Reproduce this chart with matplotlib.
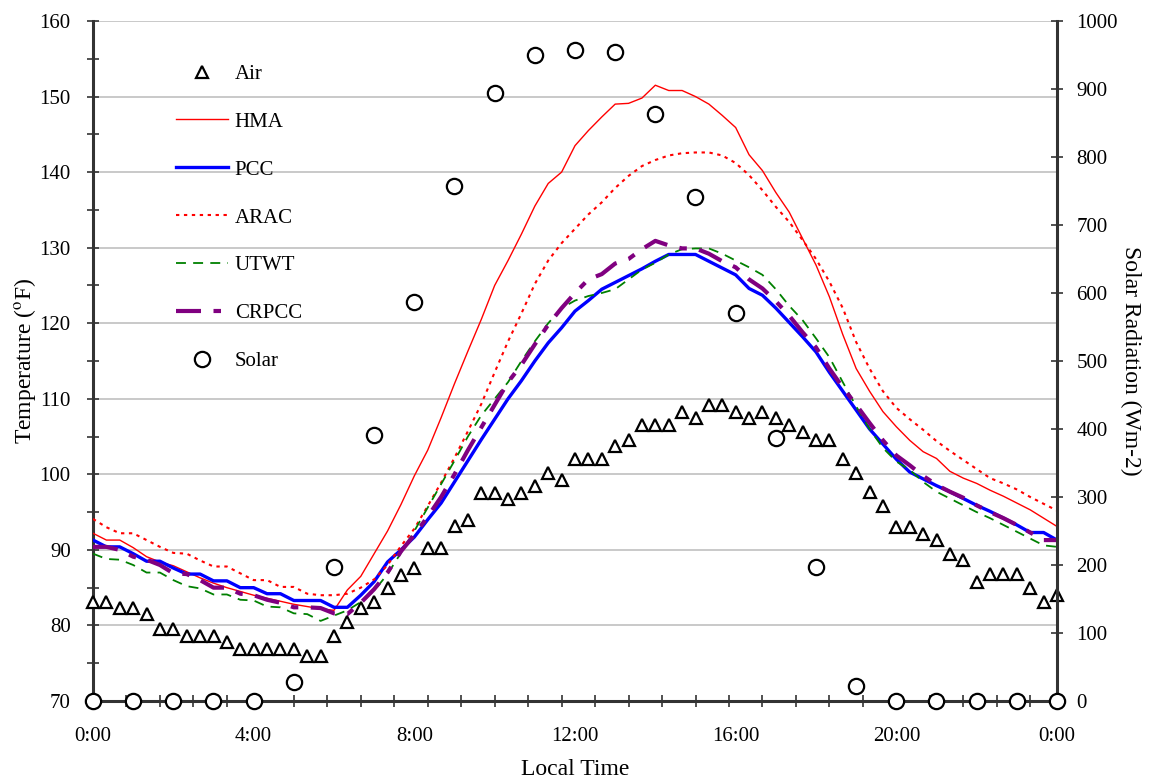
import numpy as np
import matplotlib.pyplot as plt
from matplotlib.lines import Line2D

plt.rcParams['font.family'] = ['Liberation Serif', 'DejaVu Serif']
plt.rcParams['mathtext.fontset'] = 'stix'

# 20-minute readings, 0:00 -> 24:00
hours = np.linspace(0, 24, 73)

air = [83.1, 83.1, 82.3, 82.3, 81.5, 79.5, 79.5, 78.6, 78.6, 78.6, 77.8, 76.9,
       76.9, 76.9, 76.9, 76.9, 76.0, 76.0,
       78.6, 80.5, 82.3, 83.1, 84.9, 86.7, 87.6, 90.3, 90.3,
       93.1, 94.0, 97.5, 97.5, 96.7, 97.5, 98.5, 100.2, 99.3,
       102.0, 102.0, 102.0, 103.7, 104.6, 106.5, 106.5, 106.5, 108.3,
       107.4, 109.2, 109.2, 108.3, 107.4, 108.3, 107.4, 106.5, 105.6,
       104.6, 104.6, 102.0, 100.2, 97.6, 95.8, 93.0, 93.0, 92.1,
       91.3, 89.5, 88.6, 85.8, 86.8, 86.8, 86.8, 85.0, 83.1,
       84.0]

hma = [92.2, 91.3, 91.3, 90.3, 89.1, 88.4, 87.9, 87.1, 86.3, 85.6, 85.0, 84.5,
       84.0, 83.6, 83.2, 82.8, 82.5, 82.2,
       82.0, 84.7, 86.5, 89.5, 92.5, 96.0, 99.8, 103.2, 107.5,
       112.0, 116.3, 120.5, 125.0, 128.3, 131.8, 135.5, 138.5, 140.0,
       143.5, 145.5, 147.3, 149.0, 149.1, 149.8, 151.5, 150.8, 150.8,
       150.0, 149.0, 147.5, 145.9, 142.3, 140.2, 137.3, 134.7, 131.2,
       127.7, 123.5, 118.5, 114.0, 111.0, 108.3, 106.3, 104.5, 103.0,
       102.1, 100.4, 99.5, 98.8, 97.9, 97.1, 96.2, 95.3, 94.2,
       93.1]

pcc = [91.3, 90.4, 90.4, 89.5, 88.5, 88.5, 87.6, 86.8, 86.8, 85.9, 85.9, 85.0,
       85.0, 84.2, 84.2, 83.3, 83.3, 83.3,
       82.4, 82.4, 84.0, 85.8, 88.4, 90.0, 91.7, 94.0, 96.2,
       99.0, 101.8, 104.6, 107.3, 110.0, 112.4, 115.0, 117.4, 119.4,
       121.6, 123.0, 124.5, 125.4, 126.3, 127.2, 128.2, 129.1, 129.1,
       129.1, 128.2, 127.3, 126.4, 124.6, 123.7, 122.0, 120.1, 118.2,
       116.2, 113.5, 111.0, 108.5, 106.0, 104.0, 102.0, 100.3, 99.4,
       98.5, 97.7, 96.8, 95.9, 95.1, 94.2, 93.3, 92.3, 92.3,
       91.3]

arac = [94.1, 93.0, 92.2, 92.2, 91.3, 90.4, 89.6, 89.5, 88.6, 87.8, 87.8, 86.9,
        86.0, 86.0, 85.1, 85.1, 84.2, 84.0,
        84.0, 84.2, 85.0, 86.1, 88.0, 90.5, 92.8, 95.8, 98.9,
        102.2, 105.7, 109.3, 113.5, 117.6, 121.3, 125.2, 128.3, 130.6,
        132.5, 134.4, 136.0, 137.9, 139.5, 140.8, 141.6, 142.2, 142.5,
        142.6, 142.6, 142.2, 141.2, 139.6, 137.6, 135.4, 133.4, 131.0,
        128.5, 125.5, 122.0, 117.5, 114.0, 111.0, 108.8, 107.3, 105.9,
        104.4, 103.1, 101.9, 100.7, 99.5, 98.8, 98.0, 97.0, 96.1,
        95.2]

utwt = [89.5, 88.8, 88.7, 88.0, 87.0, 87.0, 86.0, 85.2, 84.9, 84.1, 84.1, 83.4,
        83.3, 82.5, 82.4, 81.6, 81.5, 80.6,
        81.3, 82.0, 83.1, 84.6, 86.8, 89.6, 92.5, 95.6, 98.7,
        101.8, 105.0, 107.8, 110.0, 112.2, 115.0, 117.6, 120.0, 122.0,
        123.0, 123.6, 124.0, 124.5, 125.8, 127.1, 128.0, 129.1, 129.8,
        129.9, 129.9, 129.2, 128.3, 127.4, 126.4, 124.5, 122.3, 120.4,
        118.0, 115.5, 112.2, 109.0, 106.0, 103.5, 101.7, 100.6, 99.0,
        97.7, 96.8, 95.9, 95.0, 94.2, 93.3, 92.4, 91.5, 90.6,
        90.4]

crpcc = [90.4, 90.4, 90.0, 89.1, 88.7, 88.0, 86.9, 86.8, 86.0, 85.0, 85.0, 84.2,
         84.0, 83.4, 83.0, 82.4, 82.4, 82.3,
         81.6, 81.5, 83.0, 84.8, 87.0, 89.8, 92.0, 94.4, 97.0,
         100.0, 103.2, 106.2, 109.2, 112.2, 114.5, 117.2, 119.8, 122.0,
         124.0, 125.8, 126.5, 127.9, 128.5, 129.8, 130.9, 130.3, 129.9,
         129.9, 129.2, 128.2, 127.4, 125.8, 124.6, 122.9, 121.0, 118.8,
         116.8, 114.0, 111.5, 109.2, 106.8, 104.5, 102.5, 101.2, 99.8,
         98.6, 97.7, 96.9, 95.9, 95.0, 94.2, 93.3, 92.3, 91.3,
         91.3]

# hourly solar radiation
solar_hours = np.arange(25)
solar = [0, 0, 0, 0, 0, 28, 197, 391, 587, 757, 894, 950, 957, 954, 863,
         741, 571, 387, 197, 22, 0, 0, 0, 0, 0]

xtick_pos = [0, 4, 8, 12, 16, 20, 24]
xtick_labels = ['0:00', '4:00', '8:00', '12:00', '16:00', '20:00', '0:00']

fig = plt.figure(figsize=(11.49, 7.79), dpi=100)
ax = fig.add_axes([93 / 1149, 78 / 779, 964 / 1149, 680 / 779])

axis_col = '#333333'

ax.plot(hours, hma, color='red', lw=1.0, zorder=3)
ax.plot(hours, pcc, color='blue', lw=2.4, zorder=3)
ax.plot(hours, arac, color='red', lw=1.5, dashes=(1.6, 2.2), zorder=3)
ax.plot(hours, utwt, color='green', lw=1.3, dashes=(5.5, 4), zorder=3)
ax.plot(hours, crpcc, color='purple', lw=3.0, dashes=(6, 3, 1.8, 3), zorder=3)
ax.plot(hours, air, ls='none', marker='^', ms=9, mfc='white', mec='black',
        mew=1.6, clip_on=False, zorder=4)

ax.set_xlim(0, 24)
ax.set_ylim(70, 160)
ax.set_yticks(np.arange(70, 161, 10))
ax.set_yticks(np.arange(75, 160, 10), minor=True)
ax.set_xticks(xtick_pos)
ax.set_xticklabels(xtick_labels)
ax.set_xticks(np.arange(0, 24.01, 5 / 6), minor=True)
ax.grid(axis='y', color='#c0c0c0', lw=1.2)
ax.set_axisbelow(True)

ax.tick_params(axis='y', which='both', direction='inout', length=8, width=1.2,
               color=axis_col, labelsize=15, pad=12)
ax.tick_params(axis='x', which='major', length=0, labelsize=15, pad=19)
ax.tick_params(axis='x', which='minor', direction='inout', length=8, width=1.2,
               color=axis_col)

for side in ['top', 'right']:
    ax.spines[side].set_visible(False)
for side in ['left', 'bottom']:
    ax.spines[side].set_color(axis_col)
    ax.spines[side].set_linewidth(2.2)

ax.set_xlabel('Local Time', fontsize=17, labelpad=9)
ax.set_ylabel(r'Temperature ($^{\mathrm{o}}$F)', fontsize=17, labelpad=1)

ax2 = ax.twinx()
ax2.plot(solar_hours, solar, ls='none', marker='o', ms=11, mfc='white',
         mec='black', mew=1.6, clip_on=False, zorder=5)
ax2.set_ylim(0, 1000)
ax2.set_yticks(np.arange(0, 1001, 100))
ax2.tick_params(axis='y', direction='inout', length=8, width=1.2,
                color=axis_col, labelsize=15, pad=10)
for side in ['top', 'left', 'bottom']:
    ax2.spines[side].set_visible(False)
ax2.spines['right'].set_color(axis_col)
ax2.spines['right'].set_linewidth(2.2)
ax2.set_ylabel('Solar Radiation (Wm-2)', fontsize=17, rotation=-90,
               labelpad=17)

handles = [
    Line2D([], [], ls='none', marker='^', ms=9, mfc='white', mec='black', mew=1.6),
    Line2D([], [], color='red', lw=1.0),
    Line2D([], [], color='blue', lw=2.4),
    Line2D([], [], color='red', lw=1.5, dashes=(1.6, 2.2)),
    Line2D([], [], color='green', lw=1.3, dashes=(5.5, 4)),
    Line2D([], [], color='purple', lw=3.0, dashes=(6, 3, 1.8, 3)),
    Line2D([], [], ls='none', marker='o', ms=11, mfc='white', mec='black', mew=1.6),
]
labels = ['Air', 'HMA', 'PCC', 'ARAC', 'UTWT', 'CRPCC', 'Solar']
ax2.legend(handles, labels, loc='upper left', bbox_to_anchor=(0.067, 0.964),
           frameon=False, fontsize=15, handlelength=2.5, handletextpad=0.3,
           labelspacing=1.36)

fig.savefig('out.png', dpi=100)
